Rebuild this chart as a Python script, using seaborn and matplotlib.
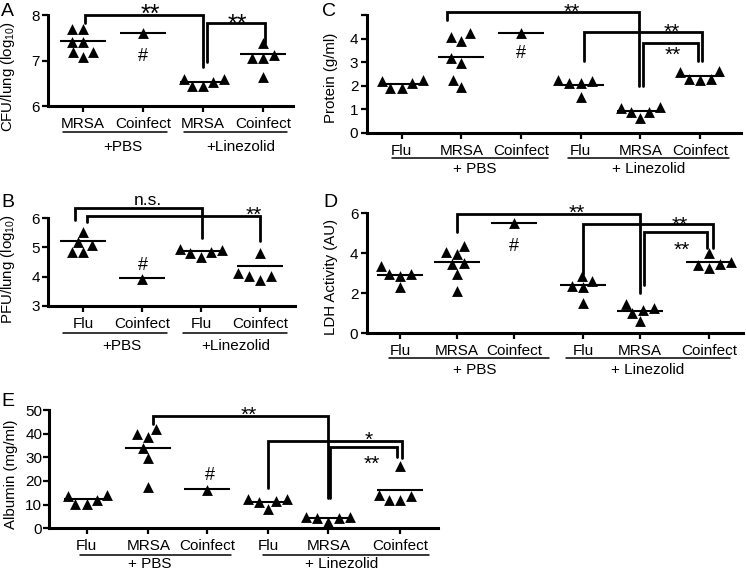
import numpy as np
import pandas as pd
import matplotlib
matplotlib.use("Agg")
import matplotlib.pyplot as plt
import seaborn as sns
from matplotlib.lines import Line2D

sns.set_theme(style="ticks")
plt.rcParams['font.family'] = ['Liberation Sans', 'DejaVu Sans']
plt.rcParams['mathtext.fontset'] = 'custom'
plt.rcParams['mathtext.rm'] = 'Liberation Sans'
plt.rcParams['mathtext.it'] = 'Liberation Sans:italic'
plt.rcParams['text.color'] = 'black'

# ---------------- data ----------------
# Panel A  CFU/lung (log10)
A_labels = ['MRSA', 'Coinfect', 'MRSA', 'Coinfect']
A_mrsa_pbs = [7.70, 7.70, 7.42, 7.42, 7.18, 7.18, 7.07]
A_coinf_pbs = [7.60]
A_mrsa_lin = [6.60, 6.54, 6.43, 6.43, 6.60]
A_coinf_lin = [7.38, 7.05, 7.05, 7.13, 6.65]
A_lines = [7.44, 7.62, 6.52, 7.15]

# Panel B  PFU/lung (log10)
B_labels = ['Flu', 'Coinfect', 'Flu', 'Coinfect']
B_flu_pbs = [5.53, 5.08, 4.85, 4.85, 5.18]
B_coinf_pbs = [3.90]
B_flu_lin = [4.94, 4.85, 4.68, 4.80, 4.91]
B_coinf_lin = [4.82, 4.02, 3.88, 4.02, 4.11]
B_lines = [5.22, 3.94, 4.88, 4.36]

# Panel C  Protein (g/ml)
C_labels = ['Flu', 'MRSA', 'Coinfect', 'Flu', 'MRSA', 'Coinfect']
C_flu_pbs = [2.25, 2.10, 1.90, 1.90, 2.20]
C_mrsa_pbs = [4.22, 3.91, 4.08, 3.16, 2.95, 2.24, 1.93]
C_coinf_pbs = [4.22]
C_flu_lin = [2.24, 2.10, 1.53, 2.10, 2.21]
C_mrsa_lin = [1.10, 0.89, 0.61, 0.89, 1.04]
C_coinf_lin = [2.63, 2.28, 2.24, 2.28, 2.59]
C_lines = [2.07, 3.23, 4.25, 2.03, 0.93, 2.41]

# Panel D  LDH Activity (AU)
D_labels = ['Flu', 'MRSA', 'Coinfect', 'Flu', 'MRSA', 'Coinfect']
D_flu_pbs = [2.95, 2.30, 3.35, 2.87, 2.97]
D_mrsa_pbs = [4.08, 4.38, 3.95, 3.50, 3.45, 2.95, 2.12]
D_coinf_pbs = [5.50]
D_flu_lin = [2.62, 1.50, 2.37, 2.30, 2.88]
D_mrsa_lin = [1.45, 1.17, 0.62, 1.00, 1.28]
D_coinf_lin = [4.03, 3.45, 3.25, 3.42, 3.58]
D_lines = [2.92, 3.55, 5.50, 2.42, 1.13, 3.58]

# Panel E  Albumin (mg/ml)
E_labels = ['Flu', 'MRSA', 'Coinfect', 'Flu', 'MRSA', 'Coinfect']
E_flu_pbs = [14.1, 12.0, 10.3, 10.3, 13.7]
E_mrsa_pbs = [41.8, 38.5, 39.7, 33.8, 29.8, 17.6]
E_coinf_pbs = [16.2]
E_flu_lin = [12.4, 11.7, 8.2, 11.0, 12.4]
E_mrsa_lin = [4.6, 4.2, 2.8, 4.2, 4.6]
E_coinf_lin = [26.3, 13.6, 12.0, 12.0, 14.1]
E_lines = [12.4, 33.8, 16.5, 11.1, 4.2, 16.2]

# ---------------- layout ----------------
W, H = 746, 571
fig = plt.figure(figsize=(W / 100, H / 100), dpi=100)
fig.patch.set_facecolor('white')


def fx(x):
    return x / W


def fy(y):
    return 1 - y / H


def make_ax(left, right, top, bottom):
    return fig.add_axes([fx(left), fy(bottom), (right - left) / W, (bottom - top) / H])


STAR = 15
panels = [
    dict(name='A', box=(48, 293, 15.3, 106), unit=60.0, pos=[0, 1, 2, 3],
         groups=[A_mrsa_pbs, A_coinf_pbs, A_mrsa_lin, A_coinf_lin], lines=A_lines,
         labels=A_labels, xlim=(-0.583, 3.5), ylim=(6, 8), yticks=[6, 7, 8],
         yticklabels=['6', '7', '8'],
         ylabel=r'CFU/lung (log$_{10}$)', ylab_xy=(8.5, 77), ypad=2.0,
         letter=(1, 15.5),
         brackets=[(0.03, 1.995, 8.0, 7.84, 6.87), (2.07, 3.03, 7.84, 6.98, 7.40)],
         texts=[(1.117, 7.857, '**', 18), (2.57, 7.636, '**', 18), (1.0, 6.986, '#', 13)],
         under=[(131.7, 63.3, 166.7, '+PBS', 123.3), (131.7, 184.3, 286.7, '+Linezolid', 240.8)],
         gbase=151),
    dict(name='B', box=(48, 295, 218.3, 305.7), unit=58.9, pos=[0, 1, 2, 3],
         groups=[B_flu_pbs, B_coinf_pbs, B_flu_lin, B_coinf_lin], lines=B_lines,
         labels=B_labels, xlim=(-0.599, 3.594), ylim=(3, 6), yticks=[3, 4, 5, 6],
         yticklabels=['3', '4', '5', '6'],
         ylabel=r'PFU/lung (log$_{10}$)', ylab_xy=(8.5, 269), ypad=2.0,
         letter=(1, 206.7),
         brackets=[(-0.14, 2.015, 6.343, 5.94, 5.32), (0.063, 3.0, 6.089, 5.883, 5.231)],
         texts=[(1.09, 6.457, 'n.s.', 12.5), (2.886, 5.90, '**', STAR), (1.008, 4.24, '#', 13)],
         under=[(332.7, 63.3, 166.7, '+PBS', 121.7), (332.7, 182.7, 286.7, '+Linezolid', 235.8)],
         gbase=349.8),
    dict(name='C', box=(366.7, 741, 15, 132.7), unit=59.66, pos=[0, 1, 2, 3, 4, 5],
         groups=[C_flu_pbs, C_mrsa_pbs, C_coinf_pbs, C_flu_lin, C_mrsa_lin, C_coinf_lin],
         lines=C_lines, labels=C_labels, xlim=(-0.587, 5.687), ylim=(0, 5),
         yticks=[0, 1, 2, 3, 4, 5], yticklabels=['0', '1', '2', '3', '4', ''],
         ylabel='Protein (g/ml)', ylab_xy=(331, 78), ypad=2.0,
         letter=(322, 16.5),
         brackets=[(0.76, 3.98, 5.14, 4.79, 1.98), (3.056, 5.03, 4.29, 3.04, 3.04),
                   (4.04, 4.96, 3.82, 1.98, 3.04)],
         texts=[(2.85, 4.88, '**', STAR), (4.526, 4.03, '**', STAR), (4.54, 3.04, '**', STAR),
                (1.995, 3.17, '#', 13)],
         under=[(157.7, 391.7, 547.7, '+ PBS', 475), (157.7, 568.3, 729.3, '+ Linezolid', 648.3)],
         gbase=173),
    dict(name='D', box=(366.7, 743, 213.3, 333.3), unit=57.0,
         pos=[0, 0.995, 2.005, 3.216, 4.211, 5.426],
         groups=[D_flu_pbs, D_mrsa_pbs, D_coinf_pbs, D_flu_lin, D_mrsa_lin, D_coinf_lin],
         lines=D_lines, labels=D_labels, xlim=(-0.584, 6.018), ylim=(0, 6),
         yticks=[0, 2, 4, 6], yticklabels=['0', '2', '4', '6'],
         ylabel='LDH Activity (AU)', ylab_xy=(331, 277), ypad=2.0,
         letter=(323, 206.7),
         brackets=[(0.995, 4.21, 5.965, 5.08, 2.0), (3.216, 5.496, 5.45, 2.95, 4.28),
                   (4.286, 5.38, 5.05, 2.415, 4.28)],
         texts=[(3.1, 5.70, '**', STAR), (4.912, 5.14, '**', STAR), (4.94, 3.89, '**', STAR),
                (2.005, 4.1, '#', 13)],
         under=[(358.3, 389, 549, '+ PBS', 475), (358.3, 566, 730, '+ Linezolid', 648)],
         gbase=373.6),
    dict(name='E', box=(48.5, 438.3, 410, 528.3), unit=60.0,
         pos=[0, 1.027, 2.01, 3.027, 4.027, 5.222],
         groups=[E_flu_pbs, E_mrsa_pbs, E_coinf_pbs, E_flu_lin, E_mrsa_lin, E_coinf_lin],
         lines=E_lines, labels=E_labels, xlim=(-0.637, 5.86), ylim=(0, 50),
         yticks=[0, 10, 20, 30, 40, 50], yticklabels=['0', '10', '20', '30', '40', '50'],
         ylabel='Albumin (mg/ml)', ylab_xy=(11.5, 474), ypad=0.5,
         letter=(1, 405.7),
         brackets=[(1.11, 4.027, 47.6, 43.96, 12.68), (3.027, 5.26, 36.9, 16.9, 29.6),
                   (4.055, 5.177, 34.2, 12.68, 30.3)],
         texts=[(2.693, 45.6, '**', STAR), (4.705, 35.0, '*', STAR), (4.75, 24.9, '**', STAR),
                (2.055, 20.6, '#', 13)],
         under=[(555, 80, 231, '+ PBS', 150), (555, 263.3, 429.3, '+ Linezolid', 341.7)],
         gbase=567.5),
]

for p in panels:
    left, right, top, bottom = p['box']
    ax = make_ax(left, right, top, bottom)
    xs, ys = [], []
    for pos, vals in zip(p['pos'], p['groups']):
        xs += [pos] * len(vals)
        ys += list(vals)
    df = pd.DataFrame({'x': xs, 'y': ys})
    sns.swarmplot(data=df, x='x', y='y', native_scale=True, orient='x', ax=ax,
                  marker='^', color='black', size=7.8, linewidth=0, legend=False)
    hw = 23.0 / p['unit']
    pos = np.array(p['pos'], dtype=float)
    ax.hlines(p['lines'], pos - hw, pos + hw, colors='black', linewidth=1.5, zorder=3)

    ax.set_xlim(*p['xlim'])
    ax.set_ylim(*p['ylim'])
    ax.set_xticks(p['pos'])
    ax.set_xticklabels(p['labels'])
    ax.set_yticks(p['yticks'])
    ax.set_yticklabels(p['yticklabels'])
    ax.set_xlabel('')
    ax.set_ylabel('')
    sns.despine(ax=ax)
    for s in ['left', 'bottom']:
        ax.spines[s].set_linewidth(2.2)
        ax.spines[s].set_color('black')
    ax.tick_params(axis='x', length=4, width=1.6, pad=4, labelsize=11, colors='black')
    ax.tick_params(axis='y', length=4, width=1.6, pad=p['ypad'], labelsize=11, colors='black')
    ax.set_facecolor('none')

    for (x1, x2, t, b1, b2) in p['brackets']:
        ax.plot([x1, x1, x2, x2], [b1, t, t, b2], color='black', lw=2.0,
                clip_on=False, solid_joinstyle='miter', zorder=4)
    for (tx, ty, s, fs) in p['texts']:
        ax.text(tx, ty, s, ha='center', va='baseline', fontsize=fs, clip_on=False)

    for (uy, ux1, ux2, txt, tcx) in p['under']:
        fig.add_artist(Line2D([fx(ux1), fx(ux2)], [fy(uy), fy(uy)], color='black', lw=1.1))
        fig.text(fx(tcx), fy(p['gbase']), txt, ha='center', va='baseline', fontsize=11)

    lx, ly = p['ylab_xy']
    fig.text(fx(lx), fy(ly), p['ylabel'], rotation=90, ha='center', va='center',
             fontsize=10.8)
    fig.text(fx(p['letter'][0]), fy(p['letter'][1]), p['name'], ha='left', va='baseline',
             fontsize=14)

fig.savefig('out.png', dpi=100, facecolor='white')
